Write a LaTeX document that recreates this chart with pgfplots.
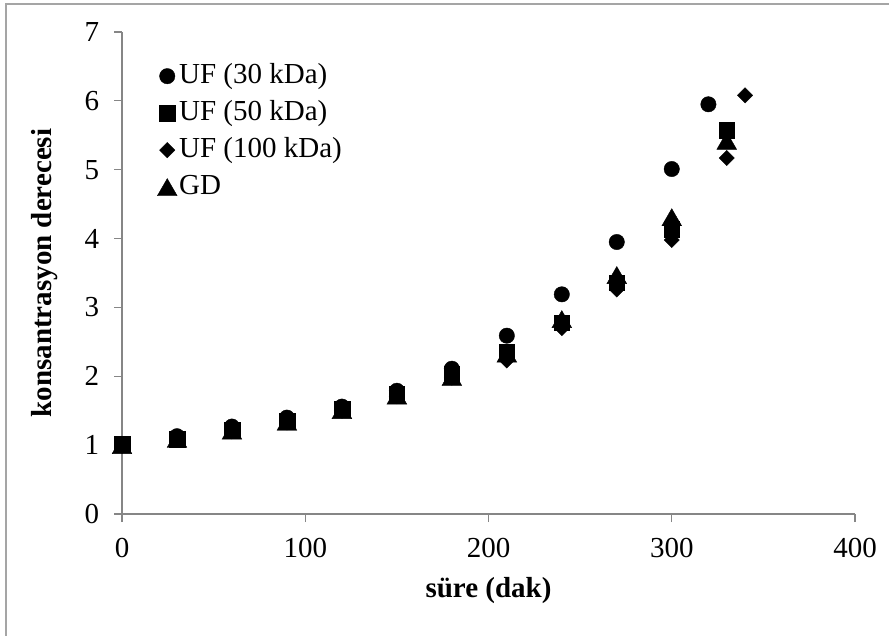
\documentclass[border=0pt]{standalone}
\usepackage{pgfplots}
\pgfplotsset{compat=1.18}
\usepackage{fontspec}
\setmainfont{Liberation Serif}
\definecolor{axgray}{RGB}{134,134,134}
\definecolor{framegray}{RGB}{165,165,165}
\begin{document}
\fontsize{29bp}{35bp}\selectfont
\begin{tikzpicture}
\path[use as bounding box] (0,0) rectangle (889bp,636bp);
\draw[framegray, line width=1.2bp] (6bp,0) -- (6bp,632bp) -- (889bp,632bp);
\begin{axis}[
  at={(122bp,122bp)}, anchor=south west,
  scale only axis, width=733bp, height=482bp,
  xmin=0, xmax=400, ymin=0, ymax=7,
  xtick={0,100,...,400}, ytick={0,1,...,7},
  axis x line*=bottom, axis y line*=left,
  axis line style={axgray, line width=1.2bp, -},
  tick style={axgray, line width=1.2bp},
  tick align=outside, major tick length=8bp,
  /pgf/number format/assume math mode=true,
  ticklabel style={font=\fontsize{29bp}{35bp}\selectfont, text=black},
  xticklabel style={yshift=-6bp},
  yticklabel style={xshift=-5bp},
  xlabel={\textbf{süre (dak)}},
  ylabel={\textbf{konsantrasyon derecesi}},
  label style={font=\fontsize{29bp}{35bp}\selectfont},
  xlabel style={at={(axis description cs:0.5,-0.158)}, anchor=center},
  ylabel style={at={(axis description cs:-0.105,0.5)}, anchor=center, rotate=0},
  legend cell align=left,
  legend image code/.code={\draw[#1] plot coordinates {(0bp,0bp)};},
  legend style={at={(axis description cs:0.048,0.942)}, anchor=north west,
    draw=none, fill=none, inner sep=0pt, row sep=5bp,
    font=\fontsize{29bp}{35bp}\selectfont,
    nodes={inner xsep=2bp, inner ysep=1bp, text height=22bp, text depth=8bp}},
]
\addplot[only marks, mark=*, mark size=7.7bp, black, mark options={fill=black}] coordinates {
(0,1.00) (30,1.13) (60,1.27) (90,1.40) (120,1.56) (150,1.79) (180,2.11) (210,2.59) (240,3.19) (270,3.95) (300,5.01) (320,5.95)};
\addlegendentry{UF (30 kDa)}
\addplot[only marks, mark=square*, mark size=7.8bp, black, mark options={fill=black}] coordinates {
(0,1.02) (30,1.09) (60,1.22) (90,1.35) (120,1.52) (150,1.74) (180,2.04) (210,2.35) (240,2.78) (270,3.36) (300,4.14) (330,5.57)};
\addlegendentry{UF (50 kDa)}
\addplot[only marks, mark=square*, mark size=5.4bp, black, mark options={fill=black, rotate=45}] coordinates {
(0,0.99) (30,1.08) (60,1.20) (90,1.33) (120,1.50) (150,1.71) (180,1.98) (210,2.23) (240,2.70) (270,3.26) (300,3.98) (330,5.17) (340,6.08)};
\addlegendentry{UF (100 kDa)}
\addplot[only marks, mark=triangle*, mark size=11.4bp, black, mark options={fill=black, yshift=-2.85bp}] coordinates {
(0,1.00) (30,1.09) (60,1.21) (90,1.34) (120,1.51) (150,1.72) (180,1.99) (210,2.33) (240,2.83) (270,3.47) (300,4.31) (330,5.42)};
\addlegendentry{GD}
\end{axis}
\end{tikzpicture}
\end{document}
